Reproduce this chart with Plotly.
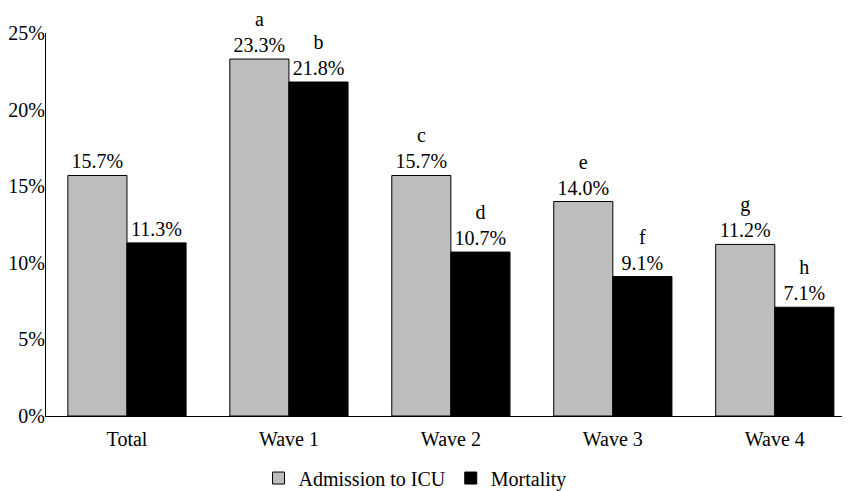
import plotly.graph_objects as go

categories = ["Total", "Wave 1", "Wave 2", "Wave 3", "Wave 4"]
admission_icu = [15.7, 23.3, 15.7, 14.0, 11.2]
mortality = [11.3, 21.8, 10.7, 9.1, 7.1]
admission_letters = ["", "a", "c", "e", "g"]
mortality_letters = ["", "b", "d", "f", "h"]
y_ticks = [0, 5, 10, 15, 20, 25]
y_tick_labels = ["0%", "5%", "10%", "15%", "20%", "25%"]


def labels(letters, values):
    out = []
    for l, v in zip(letters, values):
        t = f"{v:.1f}%"
        out.append(f"{l}<br>{t}" if l else t)
    return out


FONT = "Liberation Serif"
FS = 20

fig = go.Figure()
fig.add_trace(go.Bar(
    name="Admission to ICU", x=categories, y=admission_icu,
    text=labels(admission_letters, admission_icu), textposition="outside",
    marker=dict(color="#bdbdbd", line=dict(color="black", width=1)),
    textfont=dict(family=FONT, size=FS, color="black"), cliponaxis=False,
))
fig.add_trace(go.Bar(
    name="Mortality", x=categories, y=mortality,
    text=labels(mortality_letters, mortality), textposition="outside",
    marker=dict(color="black", line=dict(color="black", width=1)),
    textfont=dict(family=FONT, size=FS, color="black"), cliponaxis=False,
))

fig.update_layout(
    width=852, height=491,
    margin=dict(l=46, r=10, t=33, b=75, autoexpand=False),
    paper_bgcolor="white", plot_bgcolor="white",
    font=dict(family=FONT, size=FS, color="black"),
    barmode="group", bargap=0.27, bargroupgap=0,
    showlegend=True,
    legend=dict(orientation="h", x=0.4636, xanchor="center", y=-0.162, yanchor="middle",
                font=dict(family=FONT, size=FS), itemwidth=30, tracegroupgap=0),
    xaxis=dict(showline=True, linecolor="black", linewidth=1, ticks="",
               range=[-0.5, 4.415], tickfont=dict(family=FONT, size=FS), automargin=False,
               ticklabelstandoff=5),
    yaxis=dict(range=[0, 25], tickvals=y_ticks, ticktext=y_tick_labels, showgrid=False,
               showline=True, linecolor="black", linewidth=1, ticks="",
               zeroline=False, tickfont=dict(family=FONT, size=FS), automargin=False,
               ticklabelstandoff=-4),
)

fig.write_html("out.html", config={"displayModeBar": False},
               post_script="document.body.style.margin='0';")
